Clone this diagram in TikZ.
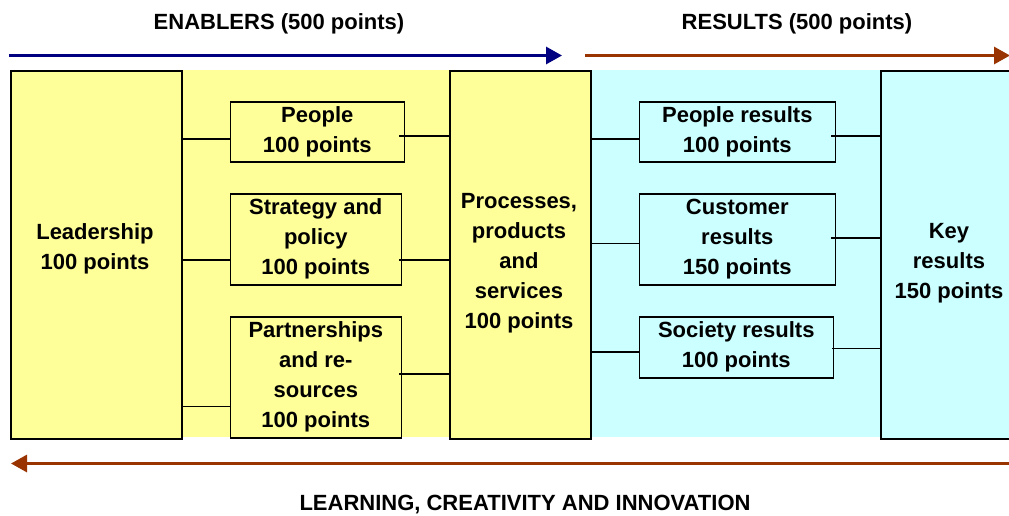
\documentclass[tikz,border=0pt]{standalone}
\usepackage{fontspec}
\setmainfont{Liberation Sans}
\usetikzlibrary{arrows.meta}
\definecolor{bandyellow}{HTML}{FFFF99}
\definecolor{bandcyan}{HTML}{CCFFFF}
\definecolor{navyarrow}{HTML}{000080}
\definecolor{rustarrow}{HTML}{993300}
\tikzset{
  txt/.style={font=\fontsize{22}{30}\selectfont\bfseries, align=center, inner sep=0pt},
  bigbox/.style={draw=black, line width=2pt, inner sep=0pt, anchor=north west},
  smallbox/.style={draw=black, line width=1.6pt, inner sep=0pt, anchor=north west,
    font=\fontsize{22}{30}\selectfont\bfseries, align=center},
  link/.style={line width=1.6pt},
  flow/.style={line width=3pt, -{Triangle[length=16pt, width=17pt]}}
}
\begin{document}
\begin{tikzpicture}[x=1pt, y=-1pt]
\useasboundingbox (0,0) rectangle (1009,515);
\clip (0,0) rectangle (1009,515);

% coloured bands behind the two halves
\fill[bandyellow] (10,70) rectangle (590,437);
\fill[bandcyan] (590,70) rectangle (1018,437);

% large column boxes
\node[bigbox, fill=bandyellow, minimum width=171pt, minimum height=368pt] (lead) at (10,70) {};
\node[bigbox, fill=bandyellow, minimum width=141pt, minimum height=368pt] (proc) at (449,70) {};
\node[bigbox, fill=bandcyan, minimum width=140pt, minimum height=368pt] (key) at (880,70) {};

\node[txt] (leadt) at (95,249) {Leadership\\100 points};
\node[txt] (proct) at (519,263) {Processes,\\products\\and\\services\\100 points};
\node[txt] (keyt) at (949,263) {Key\\results\\150 points};

% enabler criteria
\node[smallbox, minimum width=174pt, minimum height=60pt] (people) at (229.5,101) {People\\100 points};
\node[smallbox, minimum width=171pt, minimum height=91pt] (strat) at (229.5,193) {Strategy and\\policy\\100 points};
\node[smallbox, minimum width=171pt, minimum height=121pt] (partn) at (229.5,316) {Partnerships\\and re-\\sources\\100 points};

% result criteria
\node[smallbox, minimum width=196pt, minimum height=60pt] (pres) at (638.5,101) {People results\\100 points};
\node[smallbox, minimum width=196pt, minimum height=91pt] (cres) at (638.5,193) {Customer\\results\\150 points};
\node[smallbox, minimum width=194pt, minimum height=61pt] (sres) at (638.5,316) {Society results\\100 points};

% connectors
\draw[link] (lead.east |- 0,139) -- (people.west |- 0,139);
\draw[link] (lead.east |- 0,260) -- (strat.west |- 0,260);
\draw[link] (lead.east |- 0,406.5) -- (partn.west |- 0,406.5);
\draw[link] ([xshift=-6pt]people.east |- 0,136) -- (proc.west |- 0,136);
\draw[link] ([xshift=-3pt]strat.east |- 0,260) -- (proc.west |- 0,260);
\draw[link] ([xshift=-3pt]partn.east |- 0,374) -- (proc.west |- 0,374);
\draw[link] (proc.east |- 0,139) -- (pres.west |- 0,139);
\draw[link] (proc.east |- 0,243.5) -- (cres.west |- 0,243.5);
\draw[link] (proc.east |- 0,352) -- (sres.west |- 0,352);
\draw[link] ([xshift=-5pt]pres.east |- 0,136) -- (key.west |- 0,136);
\draw[link] ([xshift=-5pt]cres.east |- 0,238) -- (key.west |- 0,238);
\draw[link] ([xshift=-2pt]sres.east |- 0,348.5) -- (key.west |- 0,348.5);

% headline arrows and captions
\coordinate (enabfrom) at (9,55.5);
\coordinate (enabto) at (562,55.5);
\coordinate (resfrom) at (585,55.5);
\coordinate (resto) at (1010,55.5);
\coordinate (learnfrom) at (1012,463.5);
\coordinate (learnto) at (11,463.5);
\draw[flow, navyarrow] (enabfrom) -- (enabto);
\draw[flow, rustarrow] (resfrom) -- (resto);
\draw[flow, rustarrow] (learnfrom) -- (learnto);

\node[txt] (enab) at (279,24) {ENABLERS (500 points)};
\node[txt] (res) at (797,24) {RESULTS (500 points)};
\node[txt] (learn) at (525,505) {LEARNING, CREATIVITY AND INNOVATION};
\end{tikzpicture}
\end{document}
